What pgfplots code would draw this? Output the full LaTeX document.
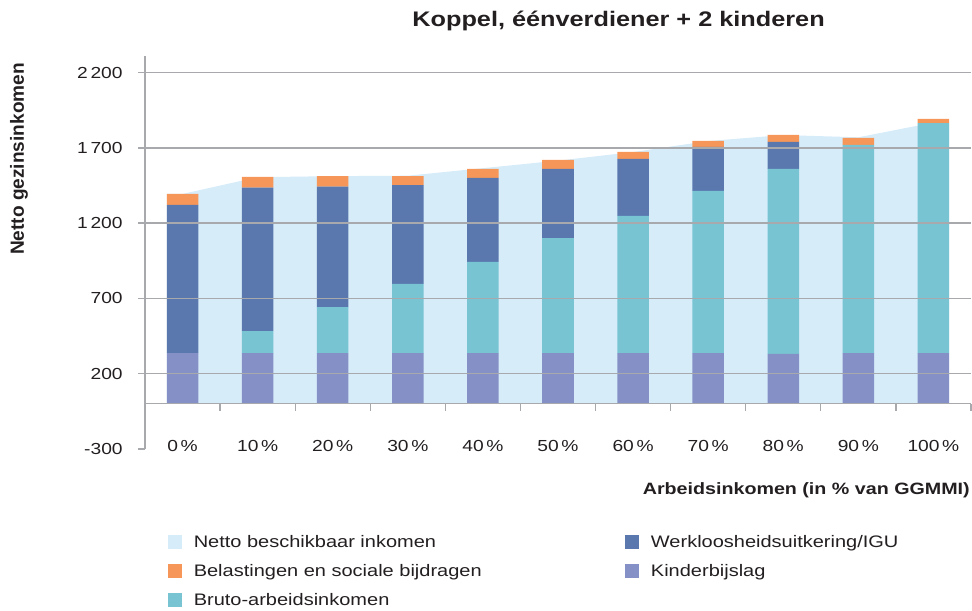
\documentclass[border=0pt]{standalone}
\usepackage{fontspec}
\setmainfont{Liberation Sans}[FakeStretch=1.2]
\newfontfamily\ylfont{Liberation Sans}
\usepackage{pgfplots}
\pgfplotsset{compat=1.18}
\definecolor{netto}{RGB}{214,236,249}
\definecolor{belast}{RGB}{247,150,89}
\definecolor{ww}{RGB}{90,120,174}
\definecolor{kinder}{RGB}{132,144,198}
\definecolor{bruto}{RGB}{120,196,210}
\definecolor{gridgray}{RGB}{167,169,172}
\definecolor{textcol}{RGB}{35,31,32}
\begin{document}
\begin{tikzpicture}
\path[use as bounding box] (0,0) rectangle (729pt,458.25pt);
\pgfplotsset{common/.style={at={(108.75pt,121.5pt)}, anchor=south west, scale only axis,
  width=619.5pt, height=294.75pt, xmin=-0.5, xmax=10.5, ymin=-300, ymax=2310}}
\begin{axis}[common, hide axis]
\addplot[fill=netto, draw=none] coordinates {(-0.21,0) (-0.21,1394) (0,1394) (1,1505) (2,1512) (3,1515) (4,1565) (5,1615) (6,1672) (7,1745) (8,1785) (9,1770) (10,1868) (10.21,1868) (10.21,0)};
\end{axis}
\begin{axis}[common,
  ybar stacked, bar width=0.42,
  axis on top,
  axis x line=middle, axis y line=left,
  every inner x axis line/.style={-},
  every outer x axis line/.style={-},
  every inner y axis line/.style={-},
  every outer y axis line/.style={-},
  axis line style={draw=gridgray, line width=1pt},
  tick style={draw=gridgray, line width=1pt},
  tick align=outside,
  major tick length=0pt, minor tick length=5.1pt,
  xtick={0,...,10},
  xticklabels={0\,\%,10\,\%,20\,\%,30\,\%,40\,\%,50\,\%,60\,\%,70\,\%,80\,\%,90\,\%,100\,\%},
  minor xtick={0.5,1.5,2.5,3.5,4.5,5.5,6.5,7.5,8.5,9.5,10.5},
  ytick={200,700,1200,1700,2200},
  minor ytick={-300,200,700,1200,1700,2200},
  extra y ticks={-300}, extra y tick style={grid=none},
  ymajorgrids, grid style={draw=gridgray, line width=1pt},
  /pgf/number format/assume math mode=true,
  /pgf/number format/1000 sep={\,},
  tick label style={font=\fontsize{12}{14}\selectfont, text=textcol},
  yticklabel style={anchor=east, xshift=-13.25pt},
  xticklabel style={anchor=center, yshift=-31.3pt},
  every axis title shift=0pt,
  title={Koppel, éénverdiener + 2 kinderen},
  title style={at={(0.5733,1.0746)}, anchor=base, inner sep=0pt, font=\bfseries\fontsize{15.8}{19}\selectfont, text=textcol},
  xlabel={Arbeidsinkomen (in \% van GGMMI)},
  xlabel style={at={(0.9988,-0.1145)}, anchor=base east, inner sep=0pt, font=\bfseries\fontsize{12.3}{15}\selectfont, text=textcol},
  ylabel={Netto gezinsinkomen},
  ylabel style={at={(-0.1465,0.738)}, rotate=0, anchor=base, inner sep=0pt, font=\ylfont\bfseries\fontsize{14.3}{17}\selectfont, text=textcol},
  legend columns=2,
  legend cell align=left,
  legend style={draw=none, fill=none, inner sep=0pt, outer sep=0pt,
    at={(0.0282,-0.2173)}, anchor=north west, row sep=10.5pt, column sep=0pt,
    nodes={inner sep=0pt, text height=10pt, text depth=1.2pt, font=\fontsize{12.5}{15}\selectfont, text=textcol}},
]
\addlegendimage{legend image code/.code={\fill[netto] (0pt,-4.75pt) rectangle (9.5pt,4.75pt); \path (18.7pt,0pt);}}
\addlegendentry{\makebox[323.8pt][l]{Netto beschikbaar inkomen}}
\addlegendimage{legend image code/.code={\fill[ww] (0pt,-4.75pt) rectangle (9.5pt,4.75pt); \path (18.7pt,0pt);}}
\addlegendentry{Werkloosheidsuitkering/IGU}
\addlegendimage{legend image code/.code={\fill[belast] (0pt,-4.75pt) rectangle (9.5pt,4.75pt); \path (18.7pt,0pt);}}
\addlegendentry{\makebox[323.8pt][l]{Belastingen en sociale bijdragen}}
\addlegendimage{legend image code/.code={\fill[kinder] (0pt,-4.75pt) rectangle (9.5pt,4.75pt); \path (18.7pt,0pt);}}
\addlegendentry{Kinderbijslag}
\addlegendimage{legend image code/.code={\fill[bruto] (0pt,-4.75pt) rectangle (9.5pt,4.75pt); \path (18.7pt,0pt);}}
\addlegendentry{\makebox[323.8pt][l]{Bruto-arbeidsinkomen}}
% Kinderbijslag
\addplot[fill=kinder, draw=none] coordinates {(0,337) (1,337) (2,337) (3,337) (4,337) (5,337) (6,337) (7,337) (8,331) (9,337) (10,337)};
% Bruto-arbeidsinkomen
\addplot[fill=bruto, draw=none] coordinates {(0,0) (1,146) (2,306) (3,459) (4,605) (5,764) (6,911) (7,1077) (8,1229) (9,1382) (10,1528)};
% Werkloosheidsuitkering/IGU
\addplot[fill=ww, draw=none] coordinates {(0,984) (1,953) (2,799) (3,657) (4,558) (5,459) (6,379) (7,292) (8,179) (9,0) (10,0)};
% Belastingen en sociale bijdragen
\addplot[fill=belast, draw=none] coordinates {(0,73) (1,71) (2,71) (3,60) (4,60) (5,60) (6,46) (7,40) (8,47) (9,47) (10,27)};
\end{axis}
\end{tikzpicture}
\end{document}
